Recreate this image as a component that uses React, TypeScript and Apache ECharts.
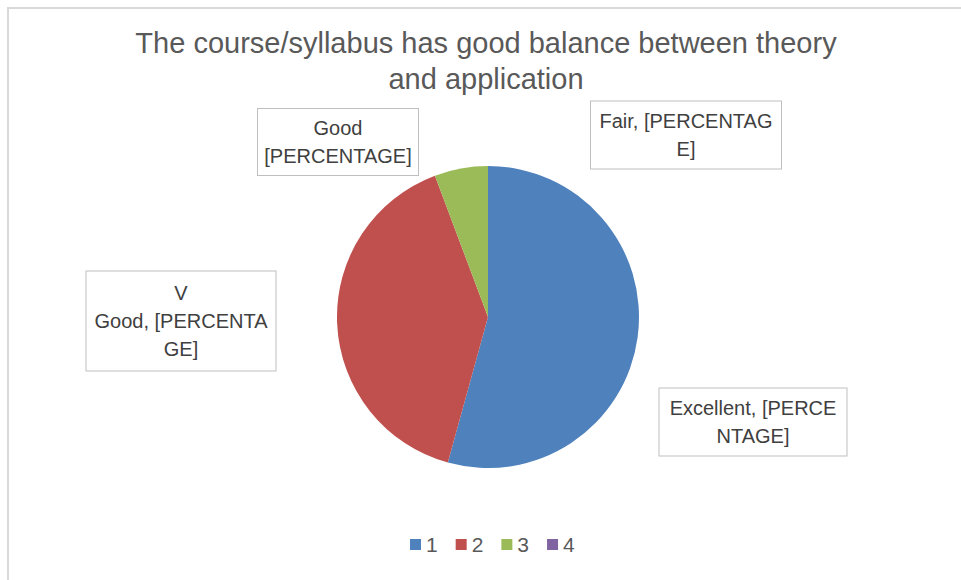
import React, { useEffect, useRef } from "react";
import * as echarts from "echarts";

const titleText = "The course/syllabus has good balance between theory\nand application";
const categories = ["1", "2", "3", "4"];
const values = [19, 14, 2, 0];
const labelTexts = [
  "Excellent, [PERCE\nNTAGE]",
  "V\nGood, [PERCENTA\nGE]",
  "Good\n[PERCENTAGE]",
  "Fair, [PERCENTAG\nE]",
];
const colors = ["#4f81bd", "#c0504d", "#9bbb59", "#8064a2"];

// label box layout: center x, center y, width, height
const boxLayout = [
  [753, 422, 187, 67],
  [181, 321, 189, 99],
  [338, 142, 160, 66],
  [686, 135, 190, 67],
];

export default function App() {
  const ref = useRef<HTMLDivElement>(null);
  useEffect(() => {
    if (!ref.current) return;
    const chart = echarts.init(ref.current, null, { renderer: "svg" });
    const font = "'Liberation Sans', 'Open Sans', sans-serif";
    chart.setOption({
      animation: false,
      backgroundColor: "#ffffff",
      title: {
        text: titleText,
        left: 481,
        top: 20,
        textAlign: "center",
        textStyle: {
          fontFamily: font,
          fontSize: 29,
          fontWeight: "normal",
          color: "#595959",
          lineHeight: 36,
          align: "center",
        },
      },
      legend: {
        data: categories,
        bottom: 20,
        left: 405,
        itemWidth: 11,
        itemHeight: 11,
        itemGap: 18,
        icon: "rect",
        textStyle: { fontFamily: font, fontSize: 21, color: "#595959" },
      },
      graphic: [
        {
          type: "rect",
          shape: { x: 8, y: 8, width: 1200, height: 1200 },
          style: { fill: "none", stroke: "#d9d9d9", lineWidth: 2 },
          silent: true,
          z: -1,
        },
      ],
      series: [
        {
          type: "pie",
          center: [488, 317],
          radius: 151,
          startAngle: 90,
          clockwise: true,
          avoidLabelOverlap: false,
          stillShowZeroSum: true,
          itemStyle: { borderWidth: 0 },
          labelLine: { show: false },
          label: {
            show: true,
            fontFamily: font,
            fontSize: 20,
            color: "#404040",
            lineHeight: 28,
            align: "center",
            verticalAlign: "middle",
            backgroundColor: "#ffffff",
            borderColor: "#bfbfbf",
            borderWidth: 1,
          },
          labelLayout: (params: any) => {
            const b = boxLayout[params.dataIndex];
            return { x: b[0], y: b[1], align: "center", verticalAlign: "middle" };
          },
          data: categories.map((c, i) => {
            const b = boxLayout[i];
            const lines = labelTexts[i].split("\n").length;
            const padV = (b[3] - lines * 28) / 2;
            return {
              name: c,
              value: values[i],
              itemStyle: { color: colors[i] },
              label: {
                formatter: labelTexts[i],
                width: b[2],
                padding: [padV, 0, padV, 0],
              },
            };
          }),
        },
      ],
    });
    return () => chart.dispose();
  }, []);
  return <div ref={ref} style={{ width: 961, height: 580, position: "absolute", left: 0, top: 0 }} />;
}
